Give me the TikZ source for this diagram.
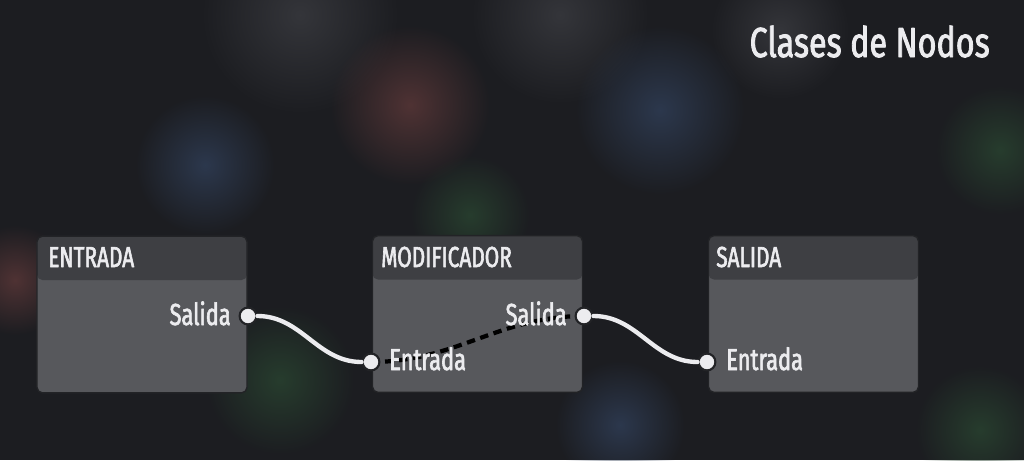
\documentclass[tikz,border=0pt]{standalone}
\usepackage{fontspec}
\newfontfamily\cond[FakeStretch=0.72,FakeBold=2]{Fira Sans}
\newfontfamily\condtit[FakeStretch=0.77,FakeBold=2]{Fira Sans}
\usetikzlibrary{fadings}
\definecolor{fondo}{HTML}{1C1D21}
\definecolor{cuerpo}{HTML}{57585C}
\definecolor{cabeza}{HTML}{3E3F43}
\definecolor{borde}{HTML}{222326}
\definecolor{texto}{HTML}{ECECEF}
\definecolor{manchaR}{HTML}{553536}
\definecolor{manchaB}{HTML}{2E3B52}
\definecolor{manchaV}{HTML}{28402F}
\definecolor{manchaG}{HTML}{37383D}
\tikzfading[name=difuso,inner color=transparent!0,outer color=transparent!100]
\begin{document}
\begin{tikzpicture}[x=0.025cm,y=-0.025cm,line cap=round,line join=round,
  box/.style={fill=cuerpo,draw=borde,line width=1pt,rounded corners=4pt,minimum width=5.25cm,minimum height=3.92cm,inner sep=0pt,
    path picture={\fill[cabeza] (path picture bounding box.north west) rectangle ([yshift=-1.1cm]path picture bounding box.north east);}},
  head/.style={anchor=base west,text=texto,inner sep=0pt,font=\cond\fontsize{20.6}{24}\selectfont},
  lbl/.style={text=texto,inner sep=0pt,font=\cond\fontsize{21.6}{25}\selectfont},
  port/.style={circle,fill=texto,draw=borde,line width=1.5pt,minimum size=0.42cm,inner sep=0pt},
  cable/.style={draw=texto,line width=3.1pt},
  blob/.style={path fading=difuso,opacity=0.9}]
\useasboundingbox (0,0) rectangle (1024,460);
\fill[fondo] (0,0) rectangle (1024,460);
% blurred background
\fill[blob,color=manchaG] (300,15) circle (100);
\fill[blob,color=manchaG] (560,15) circle (90);
\fill[blob,color=manchaG] (780,30) circle (70);
\fill[blob,color=manchaR] (410,105) circle (80);
\fill[blob,color=manchaB] (205,165) circle (70);
\fill[blob,color=manchaB] (660,110) circle (85);
\fill[blob,color=manchaV] (280,380) circle (75);
\fill[blob,color=manchaV] (470,215) circle (60);
\fill[blob,color=manchaV] (1000,150) circle (65);
\fill[blob,color=manchaR] (15,280) circle (55);
\fill[blob,color=manchaB] (620,425) circle (65);
\fill[blob,color=manchaV] (980,430) circle (65);
% title
\node[anchor=base east,text=texto,inner sep=0pt,font=\condtit\fontsize{29.8}{34}\selectfont] (titulo) at (990,57) {Clases de Nodos};
% nodes
\node[box] (entrada) at (142,314.5) {};
\node[box] (modif) at (477.5,314) {};
\node[box] (salida) at (813.5,314) {};
\node[head] (hEntrada) at (48,267) {ENTRADA};
\node[head] (hModif) at (381,267) {MODIFICADOR};
\node[head] (hSalida) at (716,267) {SALIDA};
% ports
\coordinate (eS) at (248,316);
\coordinate (mE) at (371,362);
\coordinate (mS) at (584,316);
\coordinate (sE) at (707,362);
\draw[black,line width=3pt,dash pattern=on 6pt off 4pt,line cap=butt] (mE) to[out=0,in=180] (mS);
\node[lbl,anchor=base east] (lEs) at (231,325) {Salida};
\node[lbl,anchor=base west] (lMe) at (389,370) {Entrada};
\node[lbl,anchor=base east] (lMs) at (567,325) {Salida};
\node[lbl,anchor=base west] (lSe) at (726,370) {Entrada};
\node[port] (pEs) at (eS) {};
\node[port] (pMe) at (mE) {};
\node[port] (pMs) at (mS) {};
\node[port] (pSe) at (sE) {};
\draw[cable] (pEs) to[out=0,in=180] (pMe);
\draw[cable] (pMs) to[out=0,in=180] (pSe);
\end{tikzpicture}
\end{document}
